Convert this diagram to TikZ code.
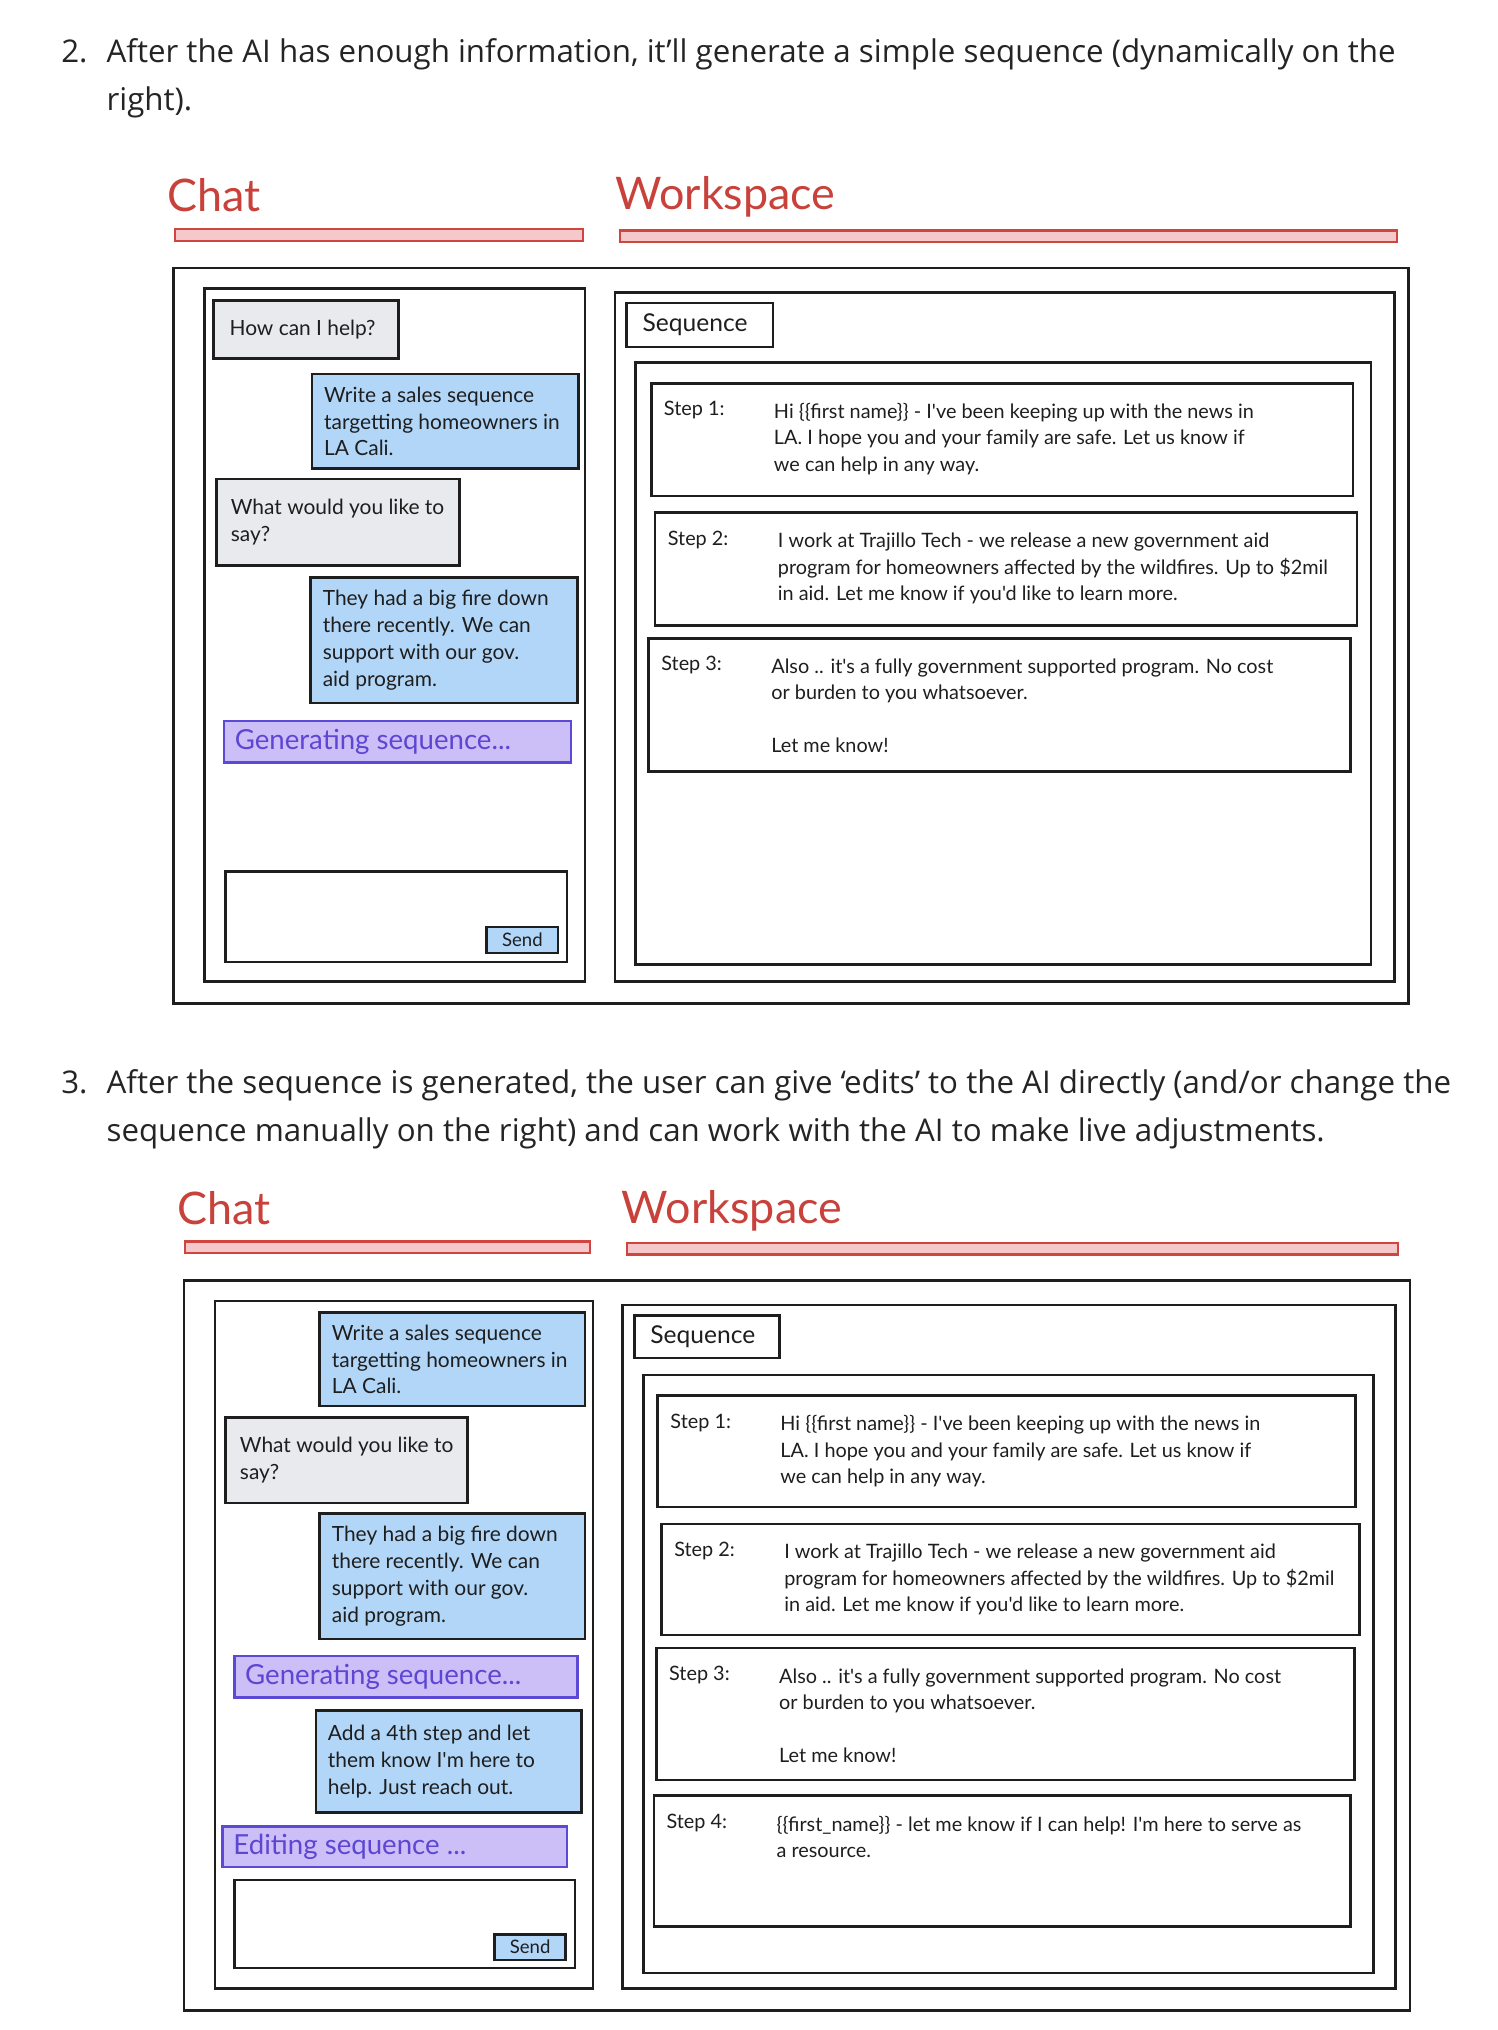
\documentclass[tikz,border=0pt]{standalone}
\usepackage{fontspec}
\setmainfont{Open Sans}
\newfontfamily\uifont{Lato}
\usetikzlibrary{positioning,fit}

\definecolor{inkc}{RGB}{30,30,30}
\definecolor{headc}{RGB}{36,36,36}
\definecolor{titlered}{RGB}{200,66,59}
\definecolor{barfill}{RGB}{245,201,204}
\definecolor{barline}{RGB}{208,70,63}
\definecolor{userblue}{RGB}{178,214,248}
\definecolor{botgray}{RGB}{232,234,237}
\definecolor{busyfill}{RGB}{204,191,248}
\definecolor{busyline}{RGB}{92,74,214}
\definecolor{busyink}{RGB}{92,70,210}

\begin{document}
\begin{tikzpicture}[x=0.6pt,y=-0.6pt,
    uiframe/.style={draw=inkc,line width=1.2pt,inner sep=0pt},
    userbox/.style={uiframe,fill=userblue},
    botbox/.style={uiframe,fill=botgray},
    busybox/.style={draw=busyline,fill=busyfill,line width=1.2pt,inner sep=0pt},
    titlebar/.style={draw=barline,fill=barfill,line width=1pt,inner sep=0pt},
    heading/.style={anchor=base west,align=left,inner sep=0pt,text=headc,font=\fontsize{14.5}{22.2}\selectfont},
    paneltitle/.style={anchor=base west,inner sep=0pt,text=titlered,font=\uifont\fontsize{20.8}{24}\selectfont},
    msgtext/.style={align=left,inner sep=0pt,text=inkc,font=\uifont\fontsize{9.7}{12.5}\selectfont},
    busytext/.style={inner sep=0pt,text=busyink,font=\uifont\fontsize{12.8}{15}\selectfont},
    tabtext/.style={inner sep=0pt,text=inkc,font=\uifont\fontsize{11.4}{13}\selectfont},
    sendtext/.style={text=inkc,font=\uifont\fontsize{8.6}{10}\selectfont},
    steplabel/.style={anchor=base west,inner sep=0pt,text=inkc,font=\uifont\fontsize{9.2}{12.3}\selectfont},
    stepbody/.style={anchor=base west,align=left,inner sep=0pt,text=inkc,font=\uifont\fontsize{9.2}{12.3}\selectfont}]
    \useasboundingbox (0,0) rectangle (1157,1568);

    \node[heading] (num_2) at (47,48) {2.};
    \node[heading] (text_2) at (82,85) {After the AI has enough information, it’ll generate a simple sequence (dynamically on the\\right).};

    \node[paneltitle] (chat_t1) at (129,163) {Chat};
    \node[paneltitle] (work_t1) at (475,162) {Workspace};
    \node[titlebar,fit={(135,177) (450,186)}] (chat_bar1) {};
    \node[titlebar,fit={(479,178) (1079,187)}] (work_bar1) {};

    \node[uiframe,fit={(134,207) (1088,775)}] (outer_1) {};
    \node[uiframe,fit={(158,223) (452,758)}] (chat_1) {};
    \node[botbox,fit={(165,232) (308,277)}] (help_1) {};
    \node[msgtext,right=7.8pt of help_1.west] (help_1t) {How can I help?};
    \node[userbox,fit={(241,289) (447,362)}] (ask_1) {};
    \node[msgtext,right=6pt of ask_1.west] (ask_1t) {Write a sales sequence\\targetting homeowners in\\LA Cali.};
    \node[botbox,fit={(167,370) (355,437)}] (say_1) {};
    \node[msgtext,right=7.2pt of say_1.west] (say_1t) {What would you like to\\say?};
    \node[userbox,fit={(240,446) (446,543)}] (fire_1) {};
    \node[msgtext,right=6pt of fire_1.west] (fire_1t) {They had a big fire down\\there recently. We can\\support with our gov.\\aid program.};
    \node[busybox,fit={(173,557) (441,589)}] (gen_1) {};
    \node[busytext,right=5.4pt of gen_1.west] (gen_1t) {Generating sequence...};
    \node[uiframe,fit={(174,673) (438,743)}] (input_1) {};
    \node[userbox,fit={(376,716) (431,736)}] (send_1) {};
    \node[sendtext] (send_1t) at (send_1.center) {Send};

    \node[uiframe,fit={(475,226) (1077,758)}] (work_1) {};
    \node[uiframe,fit={(484,234) (597,268)}] (seq_1) {};
    \node[tabtext,right=7.8pt of seq_1.west] (seq_1t) {Sequence};
    \node[uiframe,fit={(491,280) (1059,745)}] (list_1) {};
    \node[uiframe,fit={(503,296) (1045,383)}] (step_a1) {};
    \node[steplabel] (step_a1l) at ([shift={(10.5,26)}]step_a1.north west) {Step 1:};
    \node[stepbody] (step_a1t) at ([shift={(95.5,69)}]step_a1.north west) {Hi \{\{first name\}\} - I've been keeping up with the news in\\LA. I hope you and your family are safe. Let us know if\\we can help in any way.};
    \node[uiframe,fit={(506,396) (1048,483)}] (step_b1) {};
    \node[steplabel] (step_b1l) at ([shift={(10.5,26)}]step_b1.north west) {Step 2:};
    \node[stepbody] (step_b1t) at ([shift={(95.5,69)}]step_b1.north west) {I work at Trajillo Tech - we release a new government aid\\program for homeowners affected by the wildfires. Up to \$2mil\\in aid. Let me know if you'd like to learn more.};
    \node[uiframe,fit={(501,493) (1043,596)}] (step_c1) {};
    \node[steplabel] (step_c1l) at ([shift={(10.5,26)}]step_c1.north west) {Step 3:};
    \node[stepbody] (step_c1t) at ([shift={(95.5,89.5)}]step_c1.north west) {Also .. it's a fully government supported program. No cost\\or burden to you whatsoever.\\[12.3pt]Let me know!};

    \node[heading] (num_3) at (47,845) {3.};
    \node[heading] (text_3) at (82,882) {After the sequence is generated, the user can give ‘edits’ to the AI directly (and/or change the\\sequence manually on the right) and can work with the AI to make live adjustments.};

    \node[paneltitle] (chat_t2) at (137,946) {Chat};
    \node[paneltitle] (work_t2) at (480,945) {Workspace};
    \node[titlebar,fit={(143,959) (456,968)}] (chat_bar2) {};
    \node[titlebar,fit={(484,960) (1080,969)}] (work_bar2) {};

    \node[uiframe,fit={(142,989) (1089,1553)}] (outer_2) {};
    \node[uiframe,fit={(166,1005) (458,1536)}] (chat_2) {};
    \node[userbox,fit={(247,1014) (452,1086)}] (ask_2) {};
    \node[msgtext,right=6pt of ask_2.west] (ask_2t) {Write a sales sequence\\targetting homeowners in\\LA Cali.};
    \node[botbox,fit={(174,1095) (361,1161)}] (say_2) {};
    \node[msgtext,right=7.2pt of say_2.west] (say_2t) {What would you like to\\say?};
    \node[userbox,fit={(247,1169) (452,1266)}] (fire_2) {};
    \node[msgtext,right=6pt of fire_2.west] (fire_2t) {They had a big fire down\\there recently. We can\\support with our gov.\\aid program.};
    \node[busybox,fit={(181,1279) (446,1311)}] (gen_2) {};
    \node[busytext,right=5.4pt of gen_2.west] (gen_2t) {Generating sequence...};
    \node[userbox,fit={(244,1321) (449,1400)}] (add_2) {};
    \node[msgtext,right=6pt of add_2.west] (add_2t) {Add a 4th step and let\\them know I'm here to\\help. Just reach out.};
    \node[busybox,fit={(172,1411) (438,1442)}] (edit_2) {};
    \node[busytext,right=5.4pt of edit_2.west] (edit_2t) {Editing sequence ...};
    \node[uiframe,fit={(181,1452) (444,1520)}] (input_2) {};
    \node[userbox,fit={(382,1494) (437,1514)}] (send_2) {};
    \node[sendtext] (send_2t) at (send_2.center) {Send};

    \node[uiframe,fit={(481,1008) (1078,1536)}] (work_2) {};
    \node[uiframe,fit={(490,1016) (602,1049)}] (seq_2) {};
    \node[tabtext,right=7.8pt of seq_2.west] (seq_2t) {Sequence};
    \node[uiframe,fit={(497,1062) (1061,1524)}] (list_2) {};
    \node[uiframe,fit={(508,1078) (1047,1164)}] (step_a2) {};
    \node[steplabel] (step_a2l) at ([shift={(10.5,26)}]step_a2.north west) {Step 1:};
    \node[stepbody] (step_a2t) at ([shift={(95.5,69)}]step_a2.north west) {Hi \{\{first name\}\} - I've been keeping up with the news in\\LA. I hope you and your family are safe. Let us know if\\we can help in any way.};
    \node[uiframe,fit={(511,1177) (1050,1263)}] (step_b2) {};
    \node[steplabel] (step_b2l) at ([shift={(10.5,26)}]step_b2.north west) {Step 2:};
    \node[stepbody] (step_b2t) at ([shift={(95.5,69)}]step_b2.north west) {I work at Trajillo Tech - we release a new government aid\\program for homeowners affected by the wildfires. Up to \$2mil\\in aid. Let me know if you'd like to learn more.};
    \node[uiframe,fit={(507,1273) (1046,1375)}] (step_c2) {};
    \node[steplabel] (step_c2l) at ([shift={(10.5,26)}]step_c2.north west) {Step 3:};
    \node[stepbody] (step_c2t) at ([shift={(95.5,89.5)}]step_c2.north west) {Also .. it's a fully government supported program. No cost\\or burden to you whatsoever.\\[12.3pt]Let me know!};
    \node[uiframe,fit={(505,1387) (1043,1488)}] (step_d2) {};
    \node[steplabel] (step_d2l) at ([shift={(10.5,26)}]step_d2.north west) {Step 4:};
    \node[stepbody] (step_d2t) at ([shift={(95.5,49)}]step_d2.north west) {\{\{first\_name\}\} - let me know if I can help! I'm here to serve as\\a resource.};
\end{tikzpicture}
\end{document}
